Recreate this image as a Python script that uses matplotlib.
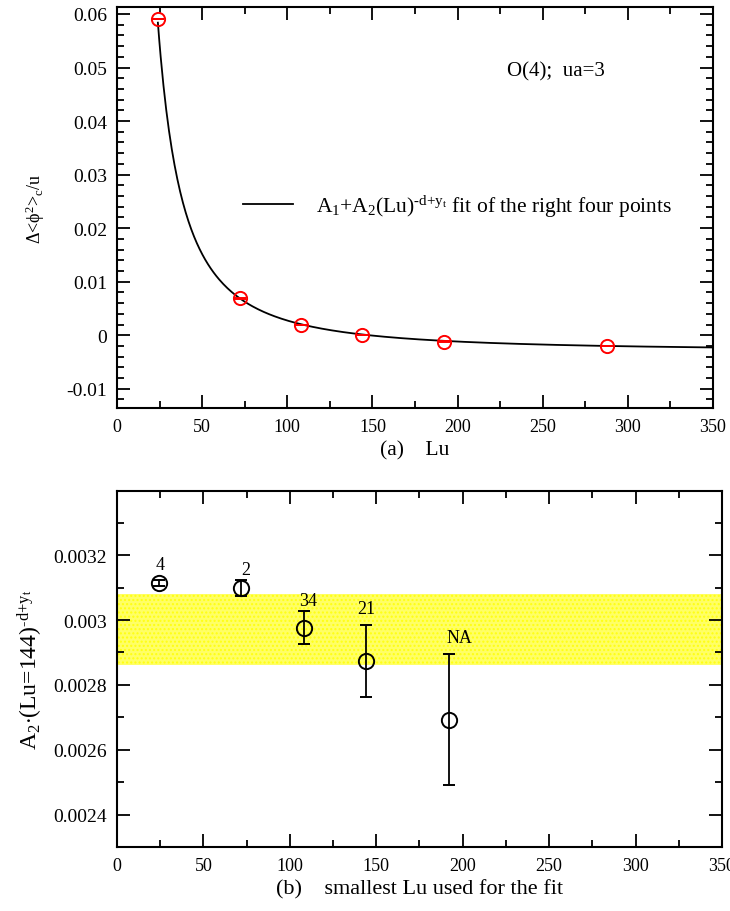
import matplotlib
matplotlib.use("Agg")

import matplotlib.pyplot as plt
import numpy as np
from matplotlib.ticker import MultipleLocator, FormatStrFormatter

plt.rcParams["font.family"] = ["Liberation Serif", "DejaVu Serif"]
plt.rcParams["mathtext.fontset"] = "custom"
plt.rcParams["mathtext.rm"] = "Liberation Serif"
plt.rcParams["mathtext.it"] = "Liberation Serif"
plt.rcParams["mathtext.default"] = "rm"
plt.rcParams["axes.unicode_minus"] = False

# panel (a): data points and fit
LU_A = [24, 72, 108, 144, 192, 288]
PHI_A = [0.0590, 0.00686, 0.00187, 0.0000, -0.00118, -0.0020]
PHI_A_ERR = [0.00002, 0.00002, 0.00002, 0.00002, 0.00002, 0.00002]
FIT_A1 = -0.00300
FIT_A2 = 12.0
FIT_P = 1.66  # d - y_t

# panel (b): A2 estimates vs smallest Lu used
LU_B = [24, 72, 108, 144, 192]
A2_B = [0.003114, 0.003098, 0.002977, 0.002874, 0.002693]
A2_B_ERR = [0.000008, 0.000024, 0.000050, 0.000112, 0.000203]
B_LABELS = ["4", "2", "34", "21", "NA"]
B_LABEL_X = [25, 74.5, 110.5, 144.5, 198]
B_LABEL_Y = [0.003172, 0.003157, 0.003060, 0.003037, 0.002945]
BAND = (0.002862, 0.003080)

TICK_KW = dict(direction="in", top=True, right=True)
SUP = r"$^{\text{-d+y}_{\text{t}}}$"


def style_axes(ax, tick_size):
    for s in ax.spines.values():
        s.set_linewidth(1.5)
    ax.tick_params(which="major", length=9.5, width=1.3, labelsize=tick_size, pad=7, **TICK_KW)
    ax.tick_params(which="minor", length=5, width=1.3, **TICK_KW)


fig = plt.figure(figsize=(7.3, 9.12), dpi=100)

# ---- (a) ----
ax1 = fig.add_axes([0.1603, 0.5515, 0.8164, 0.4397])
xs = np.linspace(24, 350, 400)
ax1.plot(xs, FIT_A1 + FIT_A2 * xs ** (-FIT_P), color="black", lw=1.3,
         label=r"A$_1$+A$_2$(Lu)" + SUP + " fit of the right four points")
ax1.errorbar(LU_A, PHI_A, yerr=PHI_A_ERR, fmt="o", ms=9.5, mfc="none", mec="red",
             mew=1.4, ecolor="red", elinewidth=1.2, capsize=4.6, capthick=1.2)
ax1.set_xlim(0, 350)
ax1.set_ylim(-0.0136, 0.0613)
ax1.xaxis.set_major_locator(MultipleLocator(50))
ax1.xaxis.set_minor_locator(MultipleLocator(25))
ax1.yaxis.set_major_locator(MultipleLocator(0.01))
ax1.yaxis.set_minor_locator(MultipleLocator(0.002))
ax1.yaxis.set_major_formatter(FormatStrFormatter("%g"))
style_axes(ax1, 13)
ax1.tick_params(axis="y", labelsize=14)
ax1.set_ylabel(r"$\Delta$<$\phi^2$>$_c$/u", fontsize=13, labelpad=14)
ax1.set_xlabel("(a)    Lu", fontsize=15.5, labelpad=4)
ax1.text(0.655, 0.842, "O(4);  ua=3", transform=ax1.transAxes, fontsize=15,
         ha="left", va="center")
ax1.legend(loc="center left", bbox_to_anchor=(0.2114, 0.504), frameon=False,
           fontsize=15.5, handlelength=2.3, handletextpad=1.1, borderpad=0,
           borderaxespad=0)

# ---- (b) ----
ax2 = fig.add_axes([0.1603, 0.0702, 0.8287, 0.3903])
ax2.axhspan(BAND[0], BAND[1], facecolor="#ffff66", edgecolor="#ffff10",
            hatch="....", lw=0, zorder=0)
ax2.errorbar(LU_B, A2_B, yerr=A2_B_ERR, fmt="o", ms=11, mfc="none", mec="black",
             mew=1.4, ecolor="black", elinewidth=1.3, capsize=4.5, capthick=1.3)
for lx, ly, t in zip(B_LABEL_X, B_LABEL_Y, B_LABELS):
    ax2.text(lx, ly, t, fontsize=13, ha="center", va="center")
ax2.set_xlim(0, 350)
ax2.set_ylim(0.0023, 0.003398)
ax2.xaxis.set_major_locator(MultipleLocator(50))
ax2.xaxis.set_minor_locator(MultipleLocator(25))
ax2.yaxis.set_major_locator(MultipleLocator(0.0002))
ax2.yaxis.set_minor_locator(MultipleLocator(0.0001))
ax2.yaxis.set_major_formatter(FormatStrFormatter("%g"))
style_axes(ax2, 13)
ax2.tick_params(axis="y", labelsize=14)
ax2.set_ylabel(r"A$_2$$\cdot$(Lu=144)" + SUP, fontsize=17, labelpad=6)
ax2.set_xlabel("(b)    smallest Lu used for the fit", fontsize=16, labelpad=4)

fig.savefig("out.png", dpi=100)
